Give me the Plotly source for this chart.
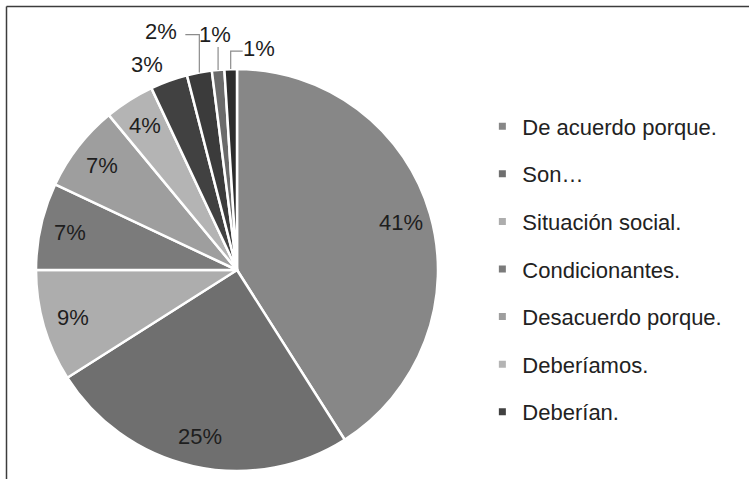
import math
import plotly.graph_objects as go

categories = ['De acuerdo porque.', 'Son…', 'Situación social.', 'Condicionantes.',
              'Desacuerdo porque.', 'Deberíamos.', 'Deberían.', 'Otros.', 'No sabe.', 'No responde.']
values = [41, 25, 9, 7, 7, 4, 3, 2, 1, 1]
legend_shown = 7
inside_count = 6

colors = ['#878787', '#6f6f6f', '#adadad', '#7b7b7b', '#9e9e9e', '#b4b4b4',
          '#414141', '#3b3b3b', '#6b6b6b', '#2c2c2c']

# pixel offsets of the outside labels from their slice rim point, and whether a leader line is drawn
outside_offsets = [(-22, -16, False), (-38, -41, True), (-3, -35, True), (28, -21, True)]

W, H = 749, 479
cx, cy, r = 237, 270, 201  # pie centre / radius in pixels
dom_x = [(cx - r) / W, (cx + r) / W]
dom_y = [(H - cy - r) / H, (H - cy + r) / H]
font = 'Liberation Sans, Arial'
fsize = 22


def px(x):
    return x / W


def py(y):
    return 1 - y / H


fig = go.Figure()
fig.add_trace(go.Pie(labels=categories, values=values, sort=False, direction='clockwise',
                     rotation=0, marker=dict(colors=colors, line=dict(color='white', width=2.5)),
                     textinfo='none', showlegend=False, hoverinfo='label+percent',
                     domain=dict(x=dom_x, y=dom_y)))

total = sum(values)
annotations = []
shapes = []
cum = 0
for i, v in enumerate(values):
    mid = (cum + v / 2) / total * 2 * math.pi
    cum += v
    label = f'{round(v / total * 100)}%'
    if i < inside_count:
        d = 0.85 * r
        lx = cx + d * math.sin(mid)
        ly = cy - d * math.cos(mid)
    else:
        ax = cx + r * math.sin(mid)
        ay = cy - r * math.cos(mid)
        ox, oy, line = outside_offsets[i - inside_count]
        lx, ly = ax + ox, ay + oy
        if line:
            if abs(ox) < 8:
                path = f'M {px(ax)} {py(ly + 12)} L {px(ax)} {py(ay)}'
            else:
                sx = lx + (24 if ox < 0 else -16)
                path = (f'M {px(sx)} {py(ly + 3)} L {px(ax)} {py(ly + 3)} '
                        f'L {px(ax)} {py(ay)}')
            shapes.append(dict(type='path', xref='paper', yref='paper', path=path,
                               line=dict(color='#8c8c8c', width=1.2)))
    annotations.append(dict(x=px(lx), y=py(ly), xref='paper', yref='paper',
                            xanchor='center', yanchor='middle', text=label, showarrow=False,
                            font=dict(family=font, size=fsize, color='#1e1e1e')))

# legend entries for the first categories only
for i in range(legend_shown):
    fig.add_trace(go.Scatter(x=[None], y=[None], mode='markers', name=categories[i],
                             legendgroup=str(i),
                             marker=dict(symbol='square', size=7, color=colors[i])))

shapes += [dict(type='line', xref='paper', yref='paper', x0=px(6.5), x1=1, y0=py(6.5), y1=py(6.5),
                line=dict(color='#3c3c3c', width=1.5)),
           dict(type='line', xref='paper', yref='paper', x0=px(6.5), x1=px(6.5), y0=0, y1=py(6.5),
                line=dict(color='#3c3c3c', width=1.5))]

fig.update_layout(
    width=W, height=H, margin=dict(l=0, r=0, t=0, b=0),
    paper_bgcolor='white', plot_bgcolor='white',
    xaxis=dict(visible=False), yaxis=dict(visible=False),
    font=dict(family=font, size=fsize, color='#222'),
    legend=dict(x=0.644, y=0.78, xanchor='left', yanchor='top', tracegroupgap=16,
                itemwidth=30, bgcolor='rgba(0,0,0,0)'),
    annotations=annotations,
    shapes=shapes,
)

fig.write_html('out.html', config={'displayModeBar': False},
               post_script="document.body.style.margin='0';")
